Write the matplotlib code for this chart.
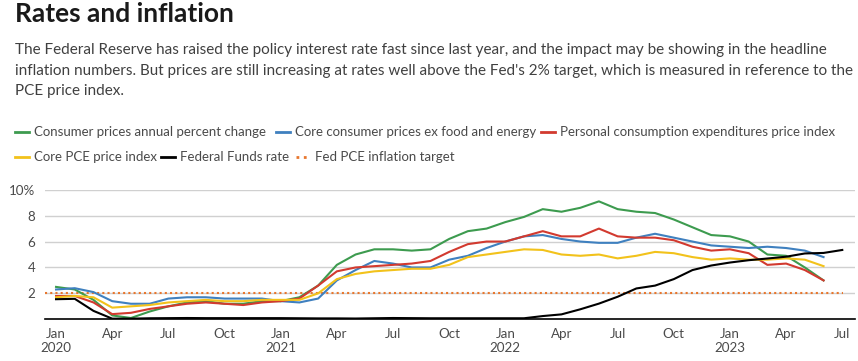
import numpy as np
import matplotlib.pyplot as plt
from matplotlib.lines import Line2D

plt.rcParams['font.family'] = ['Lato', 'DejaVu Sans']

# monthly series, Jan 2020 .. Jun 2023 (fed funds to Jul 2023)
cpi = [2.5, 2.3, 1.5, 0.3, 0.1, 0.6, 1.0, 1.3, 1.4, 1.2, 1.2, 1.4,
       1.4, 1.7, 2.6, 4.2, 5.0, 5.4, 5.4, 5.3, 5.4, 6.2, 6.8, 7.0,
       7.5, 7.9, 8.5, 8.3, 8.6, 9.1, 8.5, 8.3, 8.2, 7.7, 7.1, 6.5,
       6.4, 6.0, 5.0, 4.9, 4.0, 3.0]
core_cpi = [2.3, 2.4, 2.1, 1.4, 1.2, 1.2, 1.6, 1.7, 1.7, 1.6, 1.6, 1.6,
            1.4, 1.3, 1.6, 3.0, 3.8, 4.5, 4.3, 4.0, 4.0, 4.6, 4.9, 5.5,
            6.0, 6.4, 6.5, 6.2, 6.0, 5.9, 5.9, 6.3, 6.6, 6.3, 6.0, 5.7,
            5.6, 5.5, 5.6, 5.5, 5.3, 4.8]
pce = [1.8, 1.8, 1.3, 0.4, 0.5, 0.8, 1.0, 1.2, 1.3, 1.2, 1.1, 1.3,
       1.4, 1.6, 2.6, 3.7, 4.0, 4.1, 4.2, 4.3, 4.5, 5.2, 5.8, 6.0,
       6.0, 6.4, 6.8, 6.4, 6.4, 7.0, 6.4, 6.3, 6.3, 6.1, 5.6, 5.3,
       5.4, 5.1, 4.2, 4.3, 3.8, 3.0]
core_pce = [1.7, 1.8, 1.7, 0.9, 1.0, 1.1, 1.3, 1.4, 1.5, 1.4, 1.4, 1.5,
            1.5, 1.5, 2.0, 3.1, 3.5, 3.7, 3.8, 3.9, 3.9, 4.2, 4.8, 5.0,
            5.2, 5.4, 5.35, 5.0, 4.9, 5.0, 4.7, 4.9, 5.2, 5.1, 4.8, 4.6,
            4.7, 4.6, 4.6, 4.7, 4.6, 4.1]
fed_funds = [1.55, 1.58, 0.65, 0.05, 0.05, 0.08, 0.09, 0.10, 0.09, 0.09, 0.09, 0.09,
             0.09, 0.08, 0.07, 0.07, 0.06, 0.08, 0.10, 0.09, 0.08, 0.08, 0.08, 0.08,
             0.08, 0.08, 0.25, 0.38, 0.77, 1.21, 1.74, 2.38, 2.6, 3.1, 3.8, 4.15,
             4.38, 4.56, 4.69, 4.83, 5.08, 5.12, 5.35]
target = 2

tick_labels = ['Jan\n2020', 'Apr', 'Jul', 'Oct', 'Jan\n2021', 'Apr', 'Jul', 'Oct',
               'Jan\n2022', 'Apr', 'Jul', 'Oct', 'Jan\n2023', 'Apr', 'Jul']

names = ['Consumer prices annual percent change',
         'Core consumer prices ex food and energy',
         'Personal consumption expenditures price index',
         'Core PCE price index', 'Federal Funds rate', 'Fed PCE inflation target']
colors = ['#3d9b4f', '#3f80bf', '#d23a2f', '#f2c21b', '#000000', '#e8772e']

desc_lines = [
    "The Federal Reserve has raised the policy interest rate fast since last year, and the impact may be showing in the headline",
    "inflation numbers. But prices are still increasing at rates well above the Fed's 2% target, which is measured in reference to the",
    "PCE price index.",
]

W, H = 858, 361
fig = plt.figure(figsize=(W / 100, H / 100), dpi=100)

fig.text(15 / W, 1 - 14 / H, 'Rates and inflation', fontsize=19, fontweight='bold',
         color='#1a1a1a', va='center', ha='left')
for k, line in enumerate(desc_lines):
    fig.text(15 / W, 1 - (50 + 20.5 * k) / H, line, fontsize=11.0, color='#404040',
             va='center', ha='left')

# legend, laid out in two rows like the original
leg = [(15, 132, 0), (276, 132, 1), (541, 132, 2), (15, 157, 3), (161, 157, 4), (296, 157, 5)]
for x0, y0, i in leg:
    yy = 1 - y0 / H
    ls = ':' if i == 5 else '-'
    fig.add_artist(Line2D([x0 / W, (x0 + 14) / W], [yy, yy], color=colors[i],
                          lw=2, ls=ls, transform=fig.transFigure))
    fig.text((x0 + 19) / W, yy, names[i], fontsize=9.5, color='#4a4a4a',
             va='center', ha='left')

ax = fig.add_axes([45 / W, (H - 319.3) / H, 810 / W, 129.6 / H])
m = np.arange(len(fed_funds))
n = len(cpi)
ax.axhline(target, color=colors[5], lw=1.5, ls=(0, (1, 1.5)), xmax=0.985, zorder=2)
ax.plot(m[:n], cpi, color=colors[0], lw=1.5, zorder=3)
ax.plot(m[:n], core_cpi, color=colors[1], lw=1.5, zorder=3)
ax.plot(m[:n], pce, color=colors[2], lw=1.5, zorder=3)
ax.plot(m[:n], core_pce, color=colors[3], lw=1.5, zorder=3)
ax.plot(m, fed_funds, color=colors[4], lw=1.5, zorder=4)

ax.set_xlim(-0.59, 42.68)
ax.set_ylim(0, 10)
ax.set_yticks([2, 4, 6, 8, 10])
ax.set_yticklabels(['2', '4', '6', '8', '10%'])
ax.set_xticks(np.arange(0, 43, 3))
ax.set_xticklabels(tick_labels)
ax.grid(axis='y', color='#d0d0d0', lw=1)
ax.set_axisbelow(True)
for s in ['top', 'right', 'left']:
    ax.spines[s].set_visible(False)
ax.spines['bottom'].set_color('black')
ax.spines['bottom'].set_linewidth(1.2)
ax.tick_params(length=0, labelsize=9.6, labelcolor='#4a4a4a')
ax.tick_params(axis='y', pad=7)
ax.tick_params(axis='x', pad=6)

fig.savefig('out.png', dpi=100)
